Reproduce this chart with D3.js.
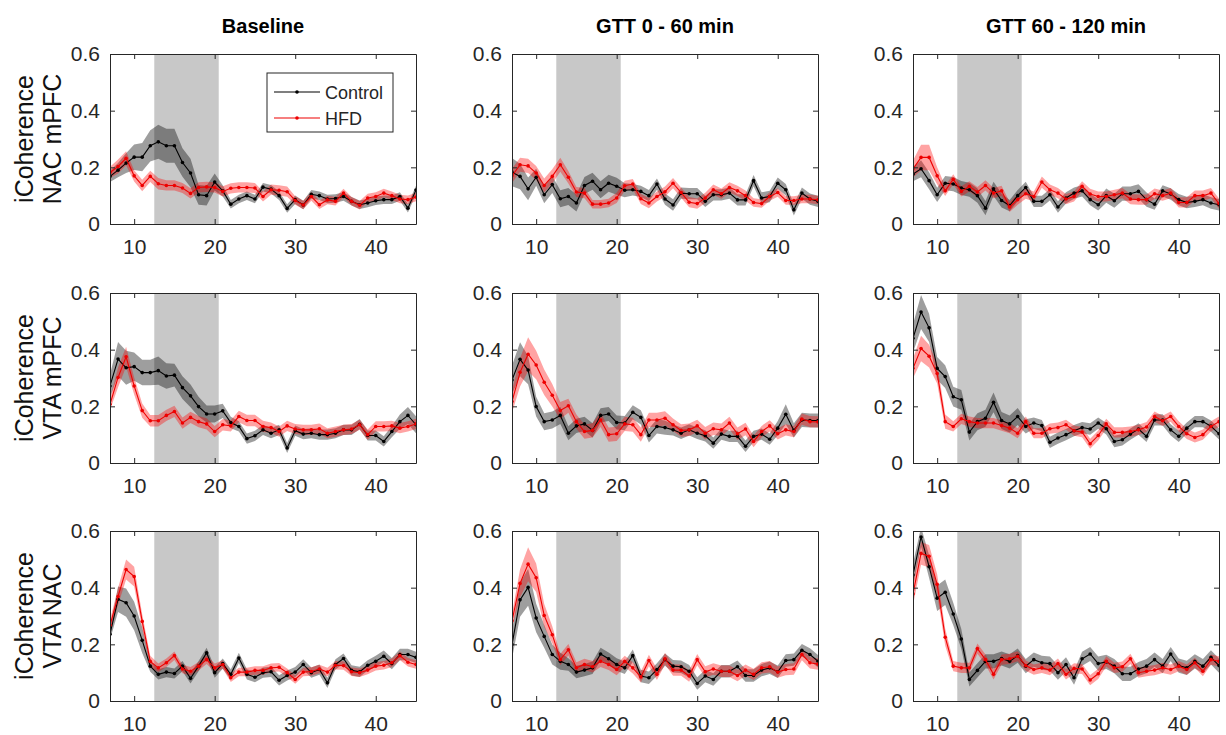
<!DOCTYPE html>
<html>
<head>
<meta charset="utf-8">
<script src="https://cdn.jsdelivr.net/npm/d3@7"></script>
<style>
  body { margin: 0; background: #fff; }
  svg { display: block; font-family: "Liberation Sans", Arial, sans-serif; }
</style>
</head>
<body>
<svg id="chart" width="1226" height="735"></svg>
<script>
// frequency bins (Hz)
const freqs = [7,8,9,10,11,12,13,14,15,16,17,18,19,20,21,22,23,24,25,26,27,28,29,30,31,32,33,34,35,36,37,38,39,40,41,42,43,44,45];
const colTitles = ["Baseline", "GTT 0 - 60 min", "GTT 60 - 120 min"];
const rowLabels = [["iCoherence", "NAC mPFC"], ["iCoherence", "VTA mPFC"], ["iCoherence", "VTA NAC"]];
const shadeBand = [12.5, 20.5];
const xTicks = [10, 20, 30, 40];
const yTicks = [0, 0.2, 0.4, 0.6];
const groups = ["Control", "HFD"];

// ---- NAC mPFC ----
const ctrl_nacmpfc_base = [.168,.19,.215,.236,.236,.276,.29,.276,.276,.217, .18,.103,.10,.148,.117,.07,.088,.10,.088,.13, .123,.10,.055,.086,.067,.105,.10,.088,.09,.097, .08,.068,.074,.082,.086,.086,.097,.056,.12];
const ctrl_nacmpfc_base_sem = [.02,.025,.035,.045,.05,.055,.06,.06,.06,.05, .05,.035,.035,.03,.02,.015,.015,.015,.015,.015, .015,.015,.015,.015,.015,.015,.015,.015,.015,.015, .015,.015,.015,.015,.015,.015,.015,.015,.015];
const hfd_nacmpfc_base = [.182,.203,.232,.17,.136,.168,.142,.136,.136,.127, .108,.129,.131,.129,.115,.126,.129,.129,.127,.097, .121,.119,.114,.083,.067,.097,.068,.085,.08,.109, .08,.066,.092,.097,.109,.10,.088,.086,.095];
const hfd_nacmpfc_base_sem = [.02,.025,.025,.02,.02,.02,.02,.018,.018,.018, .018,.018,.018,.018,.018,.018,.018,.018,.018,.018, .018,.018,.018,.015,.015,.015,.015,.015,.015,.015, .015,.015,.015,.015,.015,.015,.015,.015,.015];

const ctrl_nacmpfc_g1 = [.183,.168,.124,.165,.103,.139,.089,.097,.074,.136, .151,.121,.144,.133,.119,.121,.115,.10,.141,.088, .067,.109,.107,.107,.08,.103,.103,.109,.085,.085, .153,.092,.097,.144,.121,.05,.109,.088,.08];
const ctrl_nacmpfc_g1_sem = [.05,.045,.04,.03,.03,.03,.03,.03,.03,.03, .03,.03,.03,.03,.025,.02,.02,.02,.02,.02, .02,.02,.02,.02,.02,.02,.02,.02,.02,.02, .02,.02,.02,.02,.02,.02,.02,.02,.02];
const hfd_nacmpfc_g1 = [.17,.209,.205,.18,.136,.168,.209,.165,.113,.109, .07,.07,.074,.092,.135,.141,.089,.074,.097,.114, .144,.111,.077,.072,.092,.121,.107,.129,.117,.10, .076,.072,.097,.111,.083,.083,.088,.088,.085];
const hfd_nacmpfc_g1_sem = [.025,.025,.025,.025,.025,.025,.025,.022,.018,.018, .015,.015,.015,.018,.018,.018,.018,.018,.018,.018, .018,.018,.018,.018,.018,.018,.018,.018,.018,.018, .015,.015,.015,.015,.015,.015,.015,.015,.015];

const ctrl_nacmpfc_g2 = [.176,.195,.153,.103,.144,.141,.127,.121,.10,.056, .124,.083,.065,.10,.129,.08,.08,.103,.06,.092, .109,.117,.086,.068,.10,.082,.107,.107,.115,.086, .07,.117,.106,.086,.076,.08,.086,.074,.068];
const ctrl_nacmpfc_g2_sem = [.025,.03,.03,.025,.025,.025,.025,.025,.025,.025, .025,.025,.02,.02,.02,.02,.02,.02,.02,.02, .02,.02,.02,.02,.025,.025,.025,.025,.025,.025, .02,.02,.02,.02,.02,.02,.02,.02,.02];
const hfd_nacmpfc_g2 = [.194,.235,.235,.17,.117,.158,.115,.133,.113,.136, .109,.117,.06,.086,.107,.097,.148,.121,.109,.088, .097,.133,.106,.097,.097,.103,.109,.088,.086,.086, .107,.10,.109,.076,.076,.10,.10,.109,.072];
const hfd_nacmpfc_g2_sem = [.03,.045,.045,.03,.018,.018,.018,.018,.018,.018, .018,.018,.018,.018,.018,.018,.02,.018,.018,.018, .018,.018,.018,.018,.018,.018,.018,.018,.018,.018, .018,.018,.018,.018,.018,.018,.018,.018,.018];

// ---- VTA mPFC ----
const ctrl_vtampfc_base = [.272,.367,.336,.34,.319,.319,.326,.307,.31,.266, .237,.199,.173,.173,.184,.143,.129,.086,.096,.117, .105,.117,.053,.114,.102,.105,.10,.10,.105,.117, .117,.137,.097,.097,.076,.111,.146,.168,.135];
const ctrl_vtampfc_base_sem = [.04,.06,.06,.05,.045,.045,.05,.045,.04,.04, .04,.035,.03,.03,.025,.02,.018,.018,.018,.018, .018,.018,.018,.018,.018,.018,.018,.018,.018,.018, .018,.018,.018,.018,.018,.02,.025,.03,.03];
const hfd_vtampfc_base = [.207,.302,.375,.272,.185,.149,.149,.168,.182,.141, .161,.146,.138,.111,.135,.131,.164,.15,.15,.129, .125,.111,.131,.12,.117,.117,.121,.105,.111,.117, .12,.135,.10,.129,.129,.131,.123,.129,.138];
const hfd_vtampfc_base_sem = [.02,.035,.035,.03,.025,.02,.02,.02,.02,.02, .02,.02,.02,.02,.02,.02,.02,.02,.02,.02, .018,.018,.018,.018,.018,.018,.018,.018,.018,.018, .018,.018,.018,.018,.018,.018,.018,.018,.018];

const ctrl_vtampfc_g1 = [.293,.366,.328,.199,.146,.152,.168,.105,.131,.138, .115,.168,.173,.143,.141,.179,.161,.097,.129,.125, .117,.105,.117,.105,.096,.07,.102,.094,.094,.059, .094,.102,.084,.123,.172,.115,.152,.15,.15];
const ctrl_vtampfc_g1_sem = [.05,.06,.05,.035,.03,.03,.03,.025,.025,.025, .025,.025,.025,.025,.025,.025,.025,.025,.025,.025, .02,.02,.02,.02,.02,.02,.02,.02,.02,.02, .02,.02,.02,.025,.035,.025,.025,.025,.025];
const hfd_vtampfc_g1 = [.217,.32,.384,.346,.285,.239,.185,.202,.146,.111, .115,.152,.10,.103,.138,.135,.10,.152,.152,.158, .135,.115,.117,.131,.105,.121,.117,.141,.103,.12, .076,.111,.131,.103,.117,.111,.155,.146,.145];
const hfd_vtampfc_g1_sem = [.04,.05,.06,.05,.045,.04,.03,.025,.025,.025, .025,.025,.025,.025,.025,.025,.025,.025,.025,.025, .022,.022,.022,.022,.022,.022,.022,.022,.022,.022, .02,.02,.02,.02,.02,.02,.02,.02,.02];

const ctrl_vtampfc_g2 = [.44,.533,.477,.334,.305,.234,.223,.109,.146,.158, .214,.15,.138,.164,.129,.141,.132,.073,.088,.10, .114,.125,.12,.141,.121,.076,.082,.102,.12,.094, .152,.152,.117,.094,.123,.146,.146,.13,.103];
const ctrl_vtampfc_g2_sem = [.05,.06,.05,.04,.04,.035,.035,.03,.03,.03, .035,.03,.03,.03,.025,.02,.02,.02,.02,.02, .02,.02,.02,.02,.02,.02,.02,.02,.02,.02, .02,.02,.02,.02,.02,.02,.02,.02,.02];
const hfd_vtampfc_g2 = [.334,.404,.377,.316,.146,.129,.156,.146,.141,.141, .141,.132,.123,.105,.146,.105,.105,.121,.125,.135, .114,.109,.068,.097,.138,.108,.108,.111,.117,.127, .164,.149,.164,.129,.103,.09,.10,.129,.146];
const hfd_vtampfc_g2_sem = [.035,.045,.04,.035,.025,.018,.018,.018,.018,.018, .018,.018,.018,.018,.018,.018,.018,.018,.018,.018, .018,.018,.018,.018,.018,.018,.018,.018,.018,.018, .018,.018,.018,.018,.018,.018,.018,.018,.018];

// ---- VTA NAC ----
const ctrl_vtanac_base = [.236,.359,.347,.30,.214,.123,.094,.102,.097,.123, .08,.123,.17,.10,.132,.094,.152,.094,.084,.10, .103,.073,.09,.102,.129,.10,.111,.064,.129,.15, .108,.103,.126,.14,.158,.132,.164,.164,.154];
const ctrl_vtanac_base_sem = [.02,.045,.05,.05,.045,.02,.018,.018,.018,.018, .018,.018,.018,.018,.018,.018,.018,.018,.018,.018, .018,.018,.018,.018,.018,.018,.018,.018,.018,.018, .018,.018,.018,.02,.02,.02,.02,.02,.02];
const hfd_vtanac_base = [.267,.369,.464,.439,.281,.14,.117,.135,.16,.113, .105,.123,.146,.117,.129,.082,.102,.102,.108,.108, .117,.119,.10,.076,.102,.104,.113,.102,.126,.125, .103,.10,.109,.123,.126,.135,.16,.137,.129];
const hfd_vtanac_base_sem = [.02,.03,.035,.035,.025,.02,.015,.015,.015,.015, .015,.015,.015,.015,.015,.015,.015,.015,.015,.015, .015,.015,.015,.015,.015,.015,.015,.015,.015,.015, .015,.015,.015,.015,.015,.015,.015,.015,.015];

const ctrl_vtanac_g1 = [.199,.357,.401,.293,.228,.164,.14,.129,.102,.109, .117,.166,.149,.129,.117,.16,.088,.082,.111,.146, .123,.121,.105,.062,.088,.076,.105,.105,.121,.09, .09,.109,.117,.103,.143,.146,.179,.164,.14];
const ctrl_vtanac_g1_sem = [.05,.06,.065,.05,.04,.035,.03,.022,.022,.022, .022,.022,.022,.022,.022,.022,.022,.022,.022,.022, .022,.022,.022,.022,.022,.022,.022,.022,.022,.022, .022,.022,.022,.022,.022,.022,.022,.022,.022];
const hfd_vtanac_g1 = [.283,.415,.483,.435,.302,.234,.146,.181,.117,.129, .121,.14,.129,.111,.14,.117,.085,.143,.094,.149, .109,.109,.088,.146,.103,.113,.105,.105,.09,.109, .094,.117,.121,.102,.111,.113,.164,.135,.13];
const hfd_vtanac_g1_sem = [.025,.05,.06,.05,.04,.03,.02,.02,.02,.02, .02,.02,.02,.02,.02,.02,.02,.02,.02,.02, .02,.02,.02,.02,.02,.02,.02,.02,.02,.02, .02,.02,.02,.02,.02,.02,.02,.02,.02];

const ctrl_vtanac_g2 = [.445,.579,.474,.363,.384,.307,.219,.076,.108,.14, .14,.15,.14,.16,.123,.146,.135,.132,.10,.129, .082,.149,.166,.132,.138,.123,.096,.096,.113,.123, .146,.123,.166,.125,.117,.14,.123,.154,.125];
const ctrl_vtanac_g2_sem = [.04,.035,.04,.045,.045,.04,.035,.025,.025,.025, .025,.025,.025,.025,.025,.025,.025,.025,.025,.025, .025,.025,.025,.025,.025,.025,.025,.025,.025,.025, .025,.025,.025,.025,.025,.025,.025,.025,.025];
const hfd_vtanac_g2 = [.378,.521,.511,.412,.225,.123,.117,.117,.185,.146, .094,.146,.149,.158,.125,.111,.117,.109,.132,.094, .115,.113,.074,.096,.14,.117,.121,.149,.10,.105, .109,.117,.111,.123,.111,.135,.105,.146,.14];
const hfd_vtanac_g2_sem = [.04,.04,.04,.035,.03,.018,.018,.018,.018,.018, .018,.018,.018,.018,.018,.018,.018,.018,.018,.018, .018,.018,.018,.018,.018,.018,.018,.018,.018,.018, .018,.018,.018,.018,.018,.018,.018,.018,.018];

// grid of panels: rows = region pair, cols = condition
const panels = [
  [[ctrl_nacmpfc_base, ctrl_nacmpfc_base_sem, hfd_nacmpfc_base, hfd_nacmpfc_base_sem],
   [ctrl_nacmpfc_g1, ctrl_nacmpfc_g1_sem, hfd_nacmpfc_g1, hfd_nacmpfc_g1_sem],
   [ctrl_nacmpfc_g2, ctrl_nacmpfc_g2_sem, hfd_nacmpfc_g2, hfd_nacmpfc_g2_sem]],
  [[ctrl_vtampfc_base, ctrl_vtampfc_base_sem, hfd_vtampfc_base, hfd_vtampfc_base_sem],
   [ctrl_vtampfc_g1, ctrl_vtampfc_g1_sem, hfd_vtampfc_g1, hfd_vtampfc_g1_sem],
   [ctrl_vtampfc_g2, ctrl_vtampfc_g2_sem, hfd_vtampfc_g2, hfd_vtampfc_g2_sem]],
  [[ctrl_vtanac_base, ctrl_vtanac_base_sem, hfd_vtanac_base, hfd_vtanac_base_sem],
   [ctrl_vtanac_g1, ctrl_vtanac_g1_sem, hfd_vtanac_g1, hfd_vtanac_g1_sem],
   [ctrl_vtanac_g2, ctrl_vtanac_g2_sem, hfd_vtanac_g2, hfd_vtanac_g2_sem]]
];

const colLeft = [110, 512, 913];
const rowTop = [54, 293, 531];
const pw = 306, ph = 170;
const axisCol = "#262626";
const lineCols = ["#000000", "#ee0000"];
const bandCols = ["#000000", "#ff0000"];
const bandOp = [0.38, 0.36];

const svg = d3.select("#chart");

const x = d3.scaleLinear().domain([7, 45]).range([0, pw]);
const y = d3.scaleLinear().domain([0, 0.6]).range([ph, 0]);
const fmt = d => d === 0 ? "0" : d3.format(".1f")(d);

svg.append("defs").append("clipPath").attr("id", "clip")
  .append("rect").attr("width", pw).attr("height", ph);

// column titles
colTitles.forEach(function(t, c){
  svg.append("text")
    .attr("x", colLeft[c] + pw / 2)
    .attr("y", 33)
    .attr("text-anchor", "middle")
    .style("font-size", "20px")
    .style("font-weight", "bold")
    .text(t);
});

panels.forEach(function(row, r){
  // row label
  const lab = svg.append("text")
    .attr("transform", "translate(0," + (rowTop[r] + ph / 2) + ") rotate(-90)")
    .attr("text-anchor", "middle")
    .attr("fill", "#111")
    .style("font-size", "25px");
  lab.append("tspan").attr("x", 0).attr("y", 33).text(rowLabels[r][0]);
  lab.append("tspan").attr("x", 0).attr("y", 61).text(rowLabels[r][1]);

  row.forEach(function(p, c){
    const g = svg.append("g")
      .attr("transform", "translate(" + colLeft[c] + "," + rowTop[r] + ")");

    g.append("rect")
      .attr("x", x(shadeBand[0]))
      .attr("width", x(shadeBand[1]) - x(shadeBand[0]))
      .attr("y", 0).attr("height", ph)
      .attr("fill", "#c8c8c8");

    const plot = g.append("g").attr("clip-path", "url(#clip)");

    const series = [
      { m: p[0], s: p[1] },
      { m: p[2], s: p[3] }
    ];

    series.forEach(function(sr, k){
      const area = d3.area()
        .x((d, i) => x(freqs[i]))
        .y0((d, i) => y(d - sr.s[i]))
        .y1((d, i) => y(d + sr.s[i]));
      plot.append("path")
        .datum(sr.m)
        .attr("d", area)
        .attr("fill", bandCols[k])
        .attr("fill-opacity", bandOp[k]);
    });

    series.forEach(function(sr, k){
      const line = d3.line()
        .x((d, i) => x(freqs[i]))
        .y(d => y(d));
      plot.append("path")
        .datum(sr.m)
        .attr("d", line)
        .attr("fill", "none")
        .attr("stroke", lineCols[k])
        .attr("stroke-width", 1.1);
      plot.selectAll(null)
        .data(sr.m).enter()
        .append("circle")
          .attr("cx", (d, i) => x(freqs[i]))
          .attr("cy", d => y(d))
          .attr("r", 1.8)
          .attr("fill", lineCols[k]);
    });

    // axes (box with inward ticks on all sides)
    const ax = [
      d3.axisBottom(x).tickValues(xTicks).tickSizeInner(-5).tickSizeOuter(0).tickPadding(15),
      d3.axisTop(x).tickValues(xTicks).tickSizeInner(-5).tickSizeOuter(0).tickFormat(""),
      d3.axisLeft(y).tickValues(yTicks).tickSizeInner(-5).tickSizeOuter(0).tickPadding(10).tickFormat(fmt),
      d3.axisRight(y).tickValues(yTicks).tickSizeInner(-5).tickSizeOuter(0).tickFormat("")
    ];
    const pos = [[0, ph], [0, 0], [0, 0], [pw, 0]];
    ax.forEach(function(a, i){
      const ag = g.append("g")
        .attr("transform", "translate(" + pos[i][0] + "," + pos[i][1] + ")")
        .call(a);
      ag.select(".domain").attr("stroke", axisCol);
      ag.selectAll(".tick line").attr("stroke", axisCol);
      ag.selectAll("text")
        .attr("fill", axisCol)
        .style("font-size", "21px")
        .style("font-family", "'Liberation Sans', Arial, sans-serif");
    });

    // legend in first panel
    if (r === 0 && c === 0) {
      const lg = g.append("g").attr("transform", "translate(" + (267 - colLeft[0]) + "," + (73 - rowTop[0]) + ")");
      lg.append("rect")
        .attr("width", 126).attr("height", 59)
        .attr("fill", "#fff")
        .attr("stroke", axisCol).attr("stroke-width", 1);
      groups.forEach(function(name, k){
        const yy = 19 + k * 26;
        lg.append("line")
          .attr("x1", 7).attr("x2", 53)
          .attr("y1", yy).attr("y2", yy)
          .attr("stroke", lineCols[k]).attr("stroke-width", 1.1);
        lg.append("circle").attr("cx", 30).attr("cy", yy).attr("r", 1.8).attr("fill", lineCols[k]);
        lg.append("text")
          .attr("x", 58).attr("y", yy + 6.5)
          .style("font-size", "18px")
          .attr("fill", axisCol)
          .text(name);
      });
    }
  });
});
</script>
</body>
</html>
